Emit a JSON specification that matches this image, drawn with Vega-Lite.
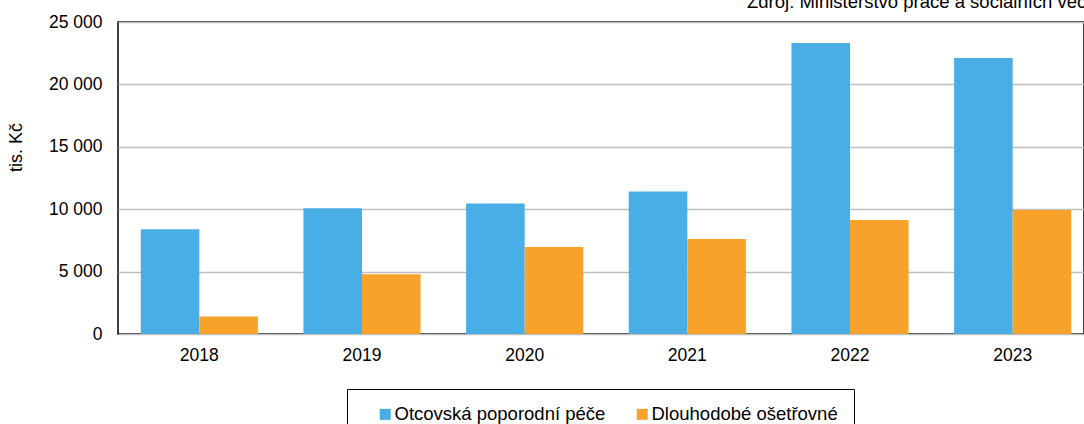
{
  "$schema": "https://vega.github.io/schema/vega-lite/v6.json",
  "autosize": "none",
  "width": 966,
  "height": 312,
  "padding": {"left": 118, "top": 22, "right": 0, "bottom": 90},
  "background": "#ffffff",
  "title": {
    "text": "Zdroj: Ministerstvo práce a sociálních věcí",
    "anchor": "start",
    "frame": "group",
    "dx": 629,
    "dy": 13,
    "offset": 0,
    "baseline": "alphabetic",
    "font": "Liberation Sans",
    "fontSize": 18.5,
    "fontWeight": "normal",
    "color": "#000000"
  },
  "data": {
    "values": [
      {"rok": "2018", "druh": "Otcovská poporodní péče", "hodnota": 8400},
      {"rok": "2018", "druh": "Dlouhodobé ošetřovné", "hodnota": 1400},
      {"rok": "2019", "druh": "Otcovská poporodní péče", "hodnota": 10080},
      {"rok": "2019", "druh": "Dlouhodobé ošetřovné", "hodnota": 4780},
      {"rok": "2020", "druh": "Otcovská poporodní péče", "hodnota": 10460},
      {"rok": "2020", "druh": "Dlouhodobé ošetřovné", "hodnota": 6970},
      {"rok": "2021", "druh": "Otcovská poporodní péče", "hodnota": 11420},
      {"rok": "2021", "druh": "Dlouhodobé ošetřovné", "hodnota": 7610},
      {"rok": "2022", "druh": "Otcovská poporodní péče", "hodnota": 23320},
      {"rok": "2022", "druh": "Dlouhodobé ošetřovné", "hodnota": 9130},
      {"rok": "2023", "druh": "Otcovská poporodní péče", "hodnota": 22120},
      {"rok": "2023", "druh": "Dlouhodobé ošetřovné", "hodnota": 9940}
    ]
  },
  "mark": {"type": "bar"},
  "encoding": {
    "x": {
      "field": "rok",
      "type": "nominal",
      "scale": {"range": [0, 976], "paddingInner": 0.28, "paddingOuter": 0.14},
      "axis": {
        "title": null,
        "labelAngle": 0,
        "ticks": false,
        "domain": false,
        "labelPadding": 12,
        "labelFont": "Liberation Sans",
        "labelFontSize": 17.5,
        "labelColor": "#000000"
      }
    },
    "xOffset": {
      "field": "druh",
      "type": "nominal",
      "sort": ["Otcovská poporodní péče", "Dlouhodobé ošetřovné"]
    },
    "y": {
      "field": "hodnota",
      "type": "quantitative",
      "scale": {"domain": [0, 25000], "nice": false},
      "axis": {
        "title": "tis. Kč",
        "values": [0, 5000, 10000, 15000, 20000, 25000],
        "labelExpr": "replace(format(datum.value, ','), ',', ' ')",
        "ticks": false,
        "domain": false,
        "labelPadding": 16,
        "labelFont": "Liberation Sans",
        "labelFontSize": 17.5,
        "labelColor": "#000000",
        "titleFont": "Liberation Sans",
        "titleFontSize": 18,
        "titleFontWeight": "normal",
        "titleColor": "#000000",
        "titleX": -97,
        "titleY": 125,
        "titleAngle": -90,
        "titleAlign": "center",
        "titleBaseline": "alphabetic",
        "grid": true,
        "gridColor": "#BFBFBF",
        "gridWidth": 1.5
      }
    },
    "color": {
      "field": "druh",
      "type": "nominal",
      "sort": ["Otcovská poporodní péče", "Dlouhodobé ošetřovné"],
      "scale": {
        "domain": ["Otcovská poporodní péče", "Dlouhodobé ošetřovné"],
        "range": ["#4AAEE6", "#F7A22A"]
      },
      "legend": {
        "title": null,
        "orient": "none",
        "legendX": 229,
        "legendY": 367,
        "direction": "horizontal",
        "padding": 16,
        "strokeColor": "#000000",
        "fillColor": "#ffffff",
        "symbolType": "square",
        "symbolSize": 121,
        "symbolStrokeWidth": 0,
        "symbolOffset": 13,
        "labelOffset": 0,
        "columnPadding": 14,
        "labelFont": "Liberation Sans",
        "labelFontSize": 18.5,
        "labelColor": "#000000",
        "labelLimit": 400
      }
    }
  },
  "config": {
    "view": {"stroke": "#000000", "strokeWidth": 1.5},
    "axis": {"gridCap": "butt"}
  }
}
